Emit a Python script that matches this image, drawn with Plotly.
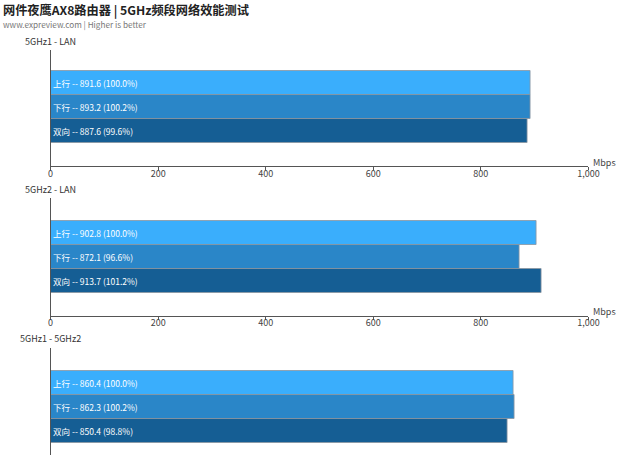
import plotly.graph_objects as go

FONT = "Noto Sans CJK SC, Microsoft YaHei, sans-serif"

directions = ["上行", "下行", "双向"]
colors = ["#3AAEFC", "#2A86C8", "#155E94"]
panels = ["5GHz1 - LAN", "5GHz2 - LAN", "5GHz1 - 5GHz2"]
values = [
    [891.6, 893.2, 887.6],
    [902.8, 872.1, 913.7],
    [860.4, 862.3, 850.4],
]
percents = [
    [100.0, 100.2, 99.6],
    [100.0, 96.6, 101.2],
    [100.0, 100.2, 98.8],
]
ticks = [0, 200, 400, 600, 800, 1000]

H = 455
W = 626  # width the page actually lays out at
X0 = 2.5  # and its small left shift


def px_(p):
    return (p - X0) / W


def py(p):
    return 1 - p / H


# pixel layout: (title centre, axis top, axis bottom, first bar centre)
boxes = [(41, 50, 166, 83), (189, 198, 315.5, 232.5), (338, 348, 455, 382.5)]
STEP = 24

fig = go.Figure()
for i, name in enumerate(panels):
    n = i + 1
    ty, top, bot, c0 = boxes[i]
    xa = "x" if n == 1 else f"x{n}"
    ya = "y" if n == 1 else f"y{n}"
    text = [f"{d} -- {v:.1f} ({p:.1f}%)" for d, v, p in zip(directions, values[i], percents[i])]
    fig.add_trace(go.Bar(
        x=values[i], y=directions, orientation="h",
        xaxis=xa, yaxis=ya, width=1,
        marker=dict(color=colors, line=dict(color="rgba(140,150,160,0.8)", width=1)),
        text=text, textposition="inside", insidetextanchor="start",
        textfont=dict(color="white", size=8.5, family=FONT),
        showlegend=False, hoverinfo="x+y",
    ))
    last = n == 3
    fig.update_layout({
        f"xaxis{'' if n == 1 else n}": dict(
            domain=[px_(51), px_(588)], range=[0, 1000], anchor=ya,
            tickvals=ticks, tickformat=",", showgrid=False, zeroline=False,
            showline=not last, linecolor="#555", linewidth=1,
            ticks="" if last else "outside", ticklen=3, tickcolor="#555",
            ticklabelstandoff=-4,
            showticklabels=not last,
            tickfont=dict(size=9, color="#444", family=FONT),
        ),
        f"yaxis{'' if n == 1 else n}": dict(
            domain=[py(bot), py(top)], anchor=xa,
            range=[(bot - c0) / STEP, (top - c0) / STEP],
            showticklabels=False, showgrid=False, zeroline=False,
            showline=True, linecolor="#555", linewidth=1, ticks="",
        ),
    })
    fig.add_annotation(text=name, x=px_(51), y=py(ty), xref="paper", yref="paper",
                       xanchor="center", yanchor="middle", showarrow=False,
                       font=dict(size=9, color="#333", family=FONT))
    if not last:
        fig.add_annotation(text="Mbps", x=px_(591), y=py(bot - 4), xref="paper", yref="paper",
                           xanchor="left", yanchor="middle", showarrow=False,
                           font=dict(size=9, color="#444", family=FONT))

fig.add_annotation(text="<b>网件夜鹰AX8路由器 | 5GHz频段网络效能测试</b>", x=px_(1.5), y=py(9.5),
                   xref="paper", yref="paper", xanchor="left", yanchor="middle", showarrow=False,
                   font=dict(size=12.2, color="#222", family=FONT))
fig.add_annotation(text="www.expreview.com | Higher is better", x=px_(1.5), y=py(24),
                   xref="paper", yref="paper", xanchor="left", yanchor="middle", showarrow=False,
                   font=dict(size=8.2, color="#777", family=FONT))

fig.update_layout(
    autosize=True,
    margin=dict(l=0, r=0, t=0, b=0),
    plot_bgcolor="white", paper_bgcolor="white",
    bargap=0,
    font=dict(family=FONT),
)

fit = """
document.documentElement.style.height = '100%';
document.body.style.height = '100%';
document.body.style.margin = '0';
document.body.style.overflow = 'hidden';
var gd = document.getElementById('{plot_id}');
gd.parentElement.style.height = '100%';
Plotly.Plots.resize(gd);
"""
fig.write_html("out.html", default_width="100%", default_height="100%",
               config={"displayModeBar": False}, post_script=fit)
